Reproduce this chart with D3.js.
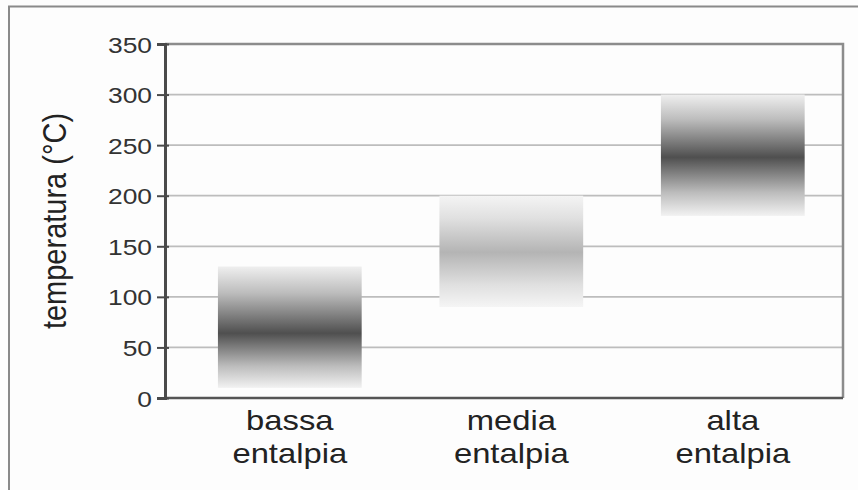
<!DOCTYPE html>
<html><head><meta charset="utf-8">
<script src="https://cdn.jsdelivr.net/npm/d3@7"></script>
<style>body{margin:0;background:#fff}svg{display:block}text{font-family:"Liberation Sans",Arial,Helvetica,sans-serif}</style>
</head><body><svg id="c" width="858" height="490"></svg>
<script>
const categories = [["bassa","entalpia"],["media","entalpia"],["alta","entalpia"]];
const lowValues  = [10, 90, 180];
const highValues = [130, 200, 300];
const peakValues = [64, 144, 238];
const peakShade  = ["#4f4f4f", "#b4b4b4", "#4f4f4f"];
const yTicks = [0, 50, 100, 150, 200, 250, 300, 350];
const yTitle = "temperatura (°C)";

const svg = d3.select("#c");
const m = {l:165, r:843, t:44, b:398};
svg.append("rect").attr("width",858).attr("height",490).attr("fill","#fdfdfd");
// outer frame (top & left)
svg.append("path").attr("d","M9,490 V6.5 H858").attr("fill","none").attr("stroke","#8a8a8a").attr("stroke-width",2);

const y = d3.scaleLinear().domain([0,350]).range([m.b,m.t]);
const x = d3.scaleBand().domain(d3.range(categories.length)).range([m.l,m.r])
  .paddingInner(0.351).paddingOuter(0.206).align(0.58);

// gridlines
svg.append("g").selectAll("line").data(yTicks.filter(t=>t>0&&t<350)).join("line")
  .attr("x1",m.l).attr("x2",m.r).attr("y1",d=>y(d)).attr("y2",d=>y(d))
  .attr("stroke","#bdbdbd").attr("stroke-width",1.8);

// gradients
const defs = svg.append("defs");
categories.forEach((c,i)=>{
  const top=y(highValues[i]), bot=y(lowValues[i]);
  const p=(y(peakValues[i])-top)/(bot-top);
  const g=defs.append("linearGradient").attr("id","g"+i).attr("x1",0).attr("x2",0).attr("y1",0).attr("y2",1);
  const mix=t=>d3.interpolateRgb("#f7f7f7",peakShade[i])(t);
  g.append("stop").attr("offset",0).attr("stop-color",mix(0.05));
  g.append("stop").attr("offset",p*0.4).attr("stop-color",mix(0.35));
  g.append("stop").attr("offset",p).attr("stop-color",mix(1));
  g.append("stop").attr("offset",p+(1-p)*0.6).attr("stop-color",mix(0.35));
  g.append("stop").attr("offset",1).attr("stop-color",mix(0.03));
});
svg.append("g").selectAll("rect").data(categories).join("rect")
  .attr("x",(d,i)=>x(i)).attr("width",x.bandwidth())
  .attr("y",(d,i)=>y(highValues[i])).attr("height",(d,i)=>y(lowValues[i])-y(highValues[i]))
  .attr("fill",(d,i)=>`url(#g${i})`);

// plot frame: top & right
svg.append("path").attr("d",`M${m.l},${m.t} H${m.r} V${m.b}`).attr("fill","none").attr("stroke","#8c8c8c").attr("stroke-width",2.5);
// bottom axis line
svg.append("line").attr("x1",m.l).attr("x2",m.r).attr("y1",m.b).attr("y2",m.b).attr("stroke","#555").attr("stroke-width",2.5);

// y axis
const ya = svg.append("g").attr("transform",`translate(${m.l},0)`)
  .call(d3.axisLeft(y).tickValues(yTicks).tickSize(8).tickPadding(5));
ya.select(".domain").attr("stroke","#4a4a4a").attr("stroke-width",3);
ya.selectAll(".tick line").attr("stroke","#4a4a4a").attr("stroke-width",2).attr("x2",-8).attr("x1",4);
ya.selectAll(".tick text").attr("font-size",22).attr("fill","#333")
  .attr("font-family","Liberation Sans, Arial, sans-serif")
  .attr("x",0).attr("transform","translate(-13,1) scale(1.2,1)");

// y title
svg.append("text").attr("transform","translate(66,221) rotate(-90) scale(1,1.12)").attr("text-anchor","middle")
  .attr("font-size",29).attr("fill","#222").text(yTitle);

// category labels
const cl = svg.append("g").selectAll("g").data(categories).join("g")
  .attr("transform",(d,i)=>`translate(${x(i)+x.bandwidth()/2},0) scale(1.17,1)`);
const ct = cl.append("text").attr("text-anchor","middle").attr("font-size",28).attr("fill","#222");
ct.append("tspan").attr("x",0).attr("y",430).text(d=>d[0]);
ct.append("tspan").attr("x",0).attr("y",463).text(d=>d[1]);
</script></body></html>
